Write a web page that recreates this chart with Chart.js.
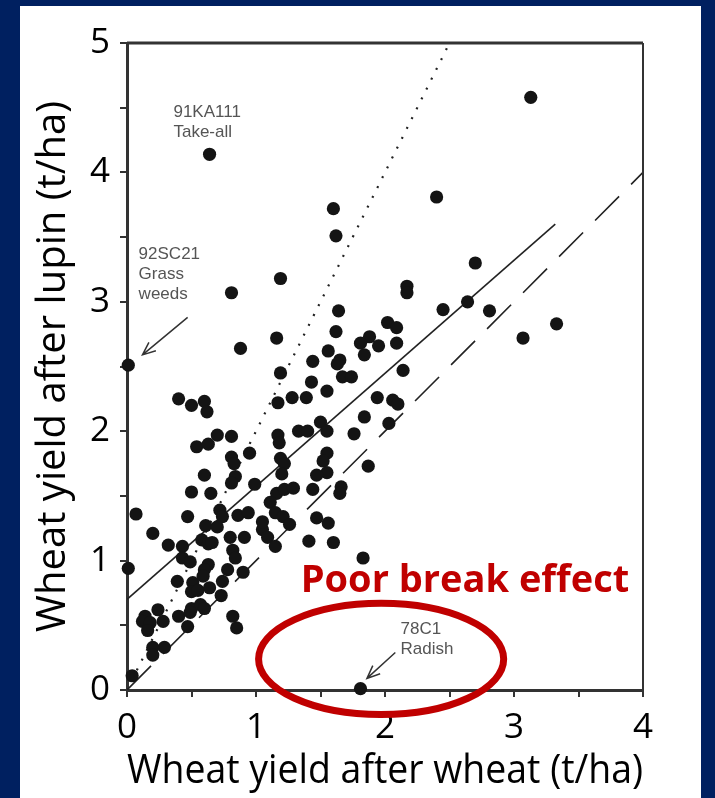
<!DOCTYPE html>
<html>
<head>
<meta charset="utf-8">
<script src="https://cdn.jsdelivr.net/npm/chart.js@4.4.1/dist/chart.umd.min.js"></script>
<style>
html, body { margin: 0; padding: 0; background: #002060; }
#grafico { display: block; }
</style>
</head>
<body>
<canvas id="grafico" width="715" height="798"></canvas>
<script>
// yield of wheat after wheat (x) and after lupin (y), t/ha
var yieldAfterWheat = [
    3.13, 0.64, 2.40, 1.60, 1.62, 2.70, 1.19, 0.81, 2.17, 2.17,
    0.88, 0.01, 1.64, 2.45, 2.64, 2.81, 3.33, 3.07, 2.02, 2.09,
    1.16, 1.62, 1.88, 1.81, 1.95, 1.84, 2.09, 1.56, 1.44, 1.65,
    1.63, 1.19, 1.67, 1.74, 2.14, 1.43, 1.55, 1.39, 1.28, 1.17,
    1.94, 2.06, 2.10, 0.40, 0.50, 0.60, 0.62, 1.50, 1.84, 2.03,
    1.33, 1.40, 1.55, 1.76, 1.17, 1.18, 0.70, 0.54, 0.63, 0.81,
    0.95, 0.81, 0.83, 1.19, 1.22, 1.20, 1.55, 1.52, 1.55, 1.47,
    1.87, 0.60, 0.84, 0.81, 0.99, 0.50, 0.65, 1.16, 1.22, 1.29,
    1.44, 1.66, 1.65, 0.07, 0.47, 0.72, 0.74, 0.86, 0.94, 1.11,
    1.15, 1.21, 1.26, 1.47, 1.56, 0.20, 0.61, 0.70, 0.32, 0.43,
    0.58, 0.63, 0.66, 0.80, 0.91, 1.05, 1.09, 1.15, 1.41, 1.60,
    1.83, 0.01, 0.43, 0.49, 0.63, 0.60, 0.82, 0.84, 0.78, 0.90,
    0.74, 0.39, 0.51, 0.50, 0.55, 0.64, 0.73, 0.24, 0.14, 0.12,
    0.18, 0.16, 0.28, 0.40, 0.50, 0.57, 0.60, 0.49, 0.47, 0.82,
    0.85, 0.20, 0.29, 0.20, 0.04, 1.81, 1.05, 0.59
];
var yieldAfterLupin = [
    4.58, 4.14, 3.81, 3.72, 3.51, 3.30, 3.18, 3.07, 3.12, 3.07,
    2.64, 2.51, 2.93, 2.94, 3.00, 2.93, 2.83, 2.72, 2.84, 2.80,
    2.72, 2.77, 2.73, 2.68, 2.66, 2.59, 2.68, 2.62, 2.54, 2.55,
    2.52, 2.45, 2.42, 2.42, 2.47, 2.38, 2.31, 2.26, 2.26, 2.22,
    2.26, 2.24, 2.21, 2.25, 2.20, 2.23, 2.15, 2.07, 2.11, 2.06,
    2.00, 2.00, 2.00, 1.98, 1.97, 1.91, 1.97, 1.88, 1.90, 1.96,
    1.83, 1.80, 1.75, 1.79, 1.75, 1.67, 1.83, 1.77, 1.68, 1.66,
    1.73, 1.66, 1.65, 1.60, 1.59, 1.53, 1.52, 1.52, 1.55, 1.56,
    1.55, 1.57, 1.52, 1.36, 1.34, 1.39, 1.34, 1.35, 1.37, 1.45,
    1.37, 1.34, 1.28, 1.33, 1.29, 1.21, 1.27, 1.26, 1.12, 1.11,
    1.16, 1.13, 1.14, 1.18, 1.18, 1.24, 1.18, 1.11, 1.15, 1.14,
    1.02, 0.94, 1.02, 0.99, 0.97, 0.93, 1.08, 1.02, 0.93, 0.91,
    0.84, 0.84, 0.83, 0.76, 0.77, 0.79, 0.73, 0.62, 0.57, 0.53,
    0.52, 0.46, 0.53, 0.57, 0.63, 0.66, 0.63, 0.60, 0.49, 0.57,
    0.48, 0.33, 0.33, 0.27, 0.11, 0.01, 1.30, 0.88
];

// fitted line, 1:1 line and 2:1 line
var fitLineX = [0, 3.32];
var fitLineY = [0.70, 3.60];
var equalLineX = [0, 4];
var equalLineY = [0, 4];
var doubleLineX = [0, 2.5];
var doubleLineY = [0, 5];

var xTitulo = 'Wheat yield after wheat (t/ha)';
var yTitulo = 'Wheat yield after lupin (t/ha)';

// notes on the plot, anchored in data units
var notas = [
    {lines: ['91KA111', 'Take-all'], x: 0.36, y: 4.43, arrow: null},
    {lines: ['92SC21', 'Grass', 'weeds'], x: 0.09, y: 3.33, arrow: [0.47, 2.88, 0.12, 2.59]},
    {lines: ['78C1', 'Radish'], x: 2.12, y: 0.43, arrow: [2.08, 0.29, 1.86, 0.09]}
];

function pares(xs, ys) {
    return xs.map(function (x, i) { return {x: x, y: ys[i]}; });
}

Chart.defaults.font.family = "'Open Sans', sans-serif";
Chart.defaults.color = '#000';

var fundo = {
    id: 'fundo',
    beforeDraw: function (chart) {
        var ctx = chart.ctx;
        ctx.save();
        ctx.fillStyle = '#002060';
        ctx.fillRect(0, 0, chart.width, chart.height);
        ctx.fillStyle = '#ffffff';
        ctx.fillRect(20, 6, 681, chart.height - 6);
        ctx.restore();
    }
};

var extras = {
    id: 'extras',
    afterDraw: function (chart) {
        var ctx = chart.ctx;
        var a = chart.chartArea;
        var sx = chart.scales.x, sy = chart.scales.y;
        ctx.save();
        // top and right of the frame
        ctx.strokeStyle = '#333';
        ctx.lineWidth = 3;
        ctx.beginPath();
        ctx.moveTo(a.left, a.top);
        ctx.lineTo(a.right, a.top);
        ctx.stroke();
        ctx.lineWidth = 2;
        ctx.beginPath();
        ctx.moveTo(a.right, a.top);
        ctx.lineTo(a.right, a.bottom);
        ctx.stroke();

        // notes
        ctx.fillStyle = '#555';
        ctx.font = "17px 'Liberation Sans', Arial, sans-serif";
        ctx.textAlign = 'left';
        ctx.textBaseline = 'alphabetic';
        notas.forEach(function (n) {
            var px = sx.getPixelForValue(n.x);
            var py = sy.getPixelForValue(n.y);
            n.lines.forEach(function (t, i) {
                ctx.fillText(t, px, py + i * 20);
            });
            if (n.arrow) {
                var x1 = sx.getPixelForValue(n.arrow[0]), y1 = sy.getPixelForValue(n.arrow[1]);
                var x2 = sx.getPixelForValue(n.arrow[2]), y2 = sy.getPixelForValue(n.arrow[3]);
                var ang = Math.atan2(y2 - y1, x2 - x1);
                ctx.strokeStyle = '#333';
                ctx.lineWidth = 1.5;
                ctx.beginPath();
                ctx.moveTo(x1, y1);
                ctx.lineTo(x2, y2);
                ctx.moveTo(x2 - 14 * Math.cos(ang - 0.4), y2 - 14 * Math.sin(ang - 0.4));
                ctx.lineTo(x2, y2);
                ctx.lineTo(x2 - 14 * Math.cos(ang + 0.4), y2 - 14 * Math.sin(ang + 0.4));
                ctx.stroke();
            }
        });

        // red callout
        ctx.fillStyle = '#c00000';
        ctx.font = "bold 38px 'Open Sans', sans-serif";
        ctx.textAlign = 'center';
        ctx.fillText('Poor break effect', sx.getPixelForValue(2.62), sy.getPixelForValue(0.76));

        ctx.strokeStyle = '#c00000';
        ctx.lineWidth = 7;
        ctx.beginPath();
        ctx.ellipse(sx.getPixelForValue(1.97), sy.getPixelForValue(0.24),
            sx.getPixelForValue(0.95) - sx.getPixelForValue(0),
            sy.getPixelForValue(0) - sy.getPixelForValue(0.43), 0, 0, Math.PI * 2);
        ctx.stroke();
        ctx.restore();
    }
};

var eixo = function (titulo, max, extra) {
    var o = {
        type: 'linear',
        min: 0,
        max: max,
        border: {display: true, color: '#333', width: 3},
        grid: {display: true, drawOnChartArea: false, drawTicks: true, tickLength: 7, lineWidth: 2, color: '#333'},
        ticks: {
            stepSize: 0.5,
            autoSkip: false,
            maxRotation: 0,
            font: {size: 35},
            color: '#000',
            callback: function (v) { return Number.isInteger(v) ? v : ''; }
        },
        title: {display: true, text: titulo, color: '#000', font: {size: 40}}
    };
    return Object.assign(o, extra);
};

var grafico = document.getElementById('grafico');
var chart = new Chart(grafico, {
    type: 'scatter',
    data: {
        datasets: [
            {
                data: pares(yieldAfterWheat, yieldAfterLupin),
                pointRadius: 6.6,
                pointBackgroundColor: '#141414',
                pointBorderWidth: 0,
                clip: false
            },
            {
                type: 'line',
                data: pares(fitLineX, fitLineY),
                borderColor: '#222',
                borderWidth: 1.6,
                pointRadius: 0
            },
            {
                type: 'line',
                data: pares(equalLineX, equalLineY),
                borderColor: '#222',
                borderWidth: 1.6,
                borderDash: [34, 17],
                pointRadius: 0
            },
            {
                type: 'line',
                data: pares(doubleLineX, doubleLineY),
                borderColor: '#222',
                borderWidth: 2.2,
                borderDash: [2, 9],
                pointRadius: 0
            }
        ]
    },
    options: {
        responsive: false,
        animation: false,
        devicePixelRatio: 1,
        layout: {padding: {top: 43, right: 72, bottom: 0, left: 0}},
        plugins: {legend: {display: false}, tooltip: {enabled: false}},
        scales: {
            x: eixo(xTitulo, 4, {
                position: 'bottom',
                afterFit: function (s) { s.height = 108; }
            }),
            y: eixo(yTitulo, 5, {
                position: 'left',
                afterFit: function (s) { s.width = 127; }
            })
        }
    },
    plugins: [fundo, extras]
});
chart.options.scales.x.ticks.padding = 10;
chart.options.scales.x.title.padding = {top: 0, bottom: 2};
chart.options.scales.y.ticks.padding = 10;
chart.options.scales.y.title.padding = {top: 30, bottom: 0};
chart.update();
</script>
</body>
</html>
